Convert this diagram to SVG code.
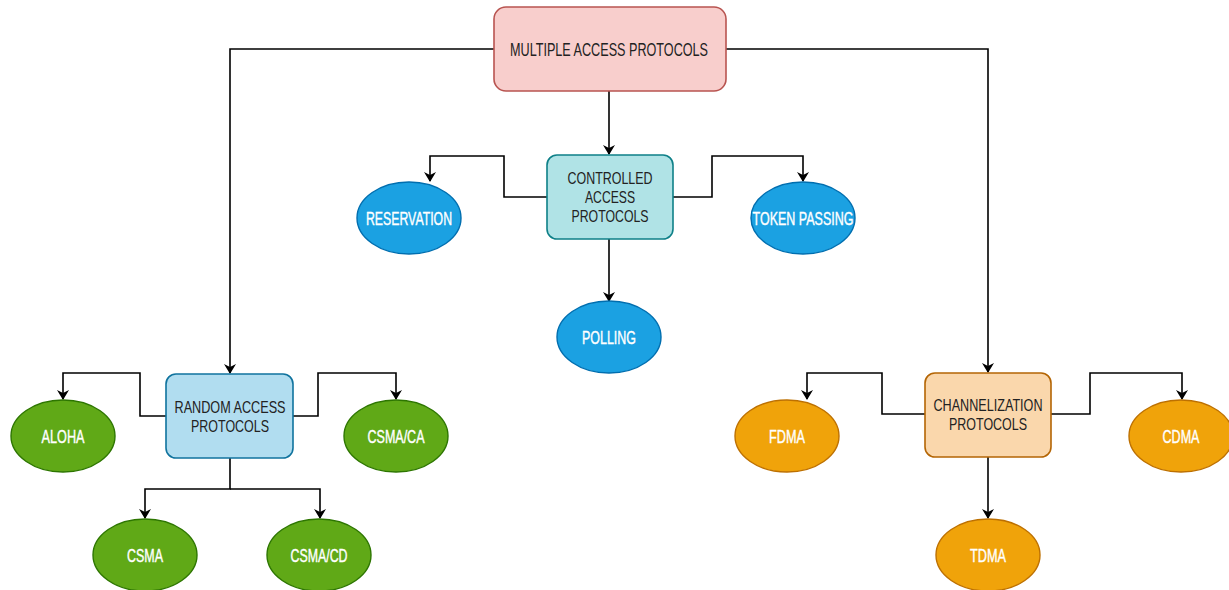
<svg xmlns="http://www.w3.org/2000/svg" width="1229" height="590" viewBox="0 0 1229 590">
  <style>
    .box text { font-family: "Liberation Sans", Arial, sans-serif; font-size: 17px; fill: #222; text-anchor: middle; }
    .oval text { font-family: "Liberation Sans", Arial, sans-serif; font-size: 18px; fill: #fff; stroke: #fff; stroke-width: 0.4; text-anchor: middle; }
    .edge { fill: none; stroke: #000; stroke-width: 1.6; marker-end: url(#arrow); }
    .pink { fill: #f8cecc; stroke: #b85450; stroke-width: 1.6; }
    .teal { fill: #b0e3e6; stroke: #0e8088; stroke-width: 1.6; }
    .sky { fill: #b1ddf0; stroke: #10739e; stroke-width: 1.6; }
    .peach { fill: #fad7ac; stroke: #b46504; stroke-width: 1.6; }
    .blue { fill: #1ba1e2; stroke: #006eaf; stroke-width: 1.4; }
    .green { fill: #60a917; stroke: #2d7600; stroke-width: 1.4; }
    .orange { fill: #f0a30a; stroke: #bd7000; stroke-width: 1.4; }
  </style>
  <defs>
    <marker id="arrow" viewBox="0 0 10 12" refX="9" refY="6" markerWidth="10" markerHeight="12" markerUnits="userSpaceOnUse" orient="auto">
      <path d="M0,0 L10,6 L0,12 L3,6 Z" fill="#000"/>
    </marker>
  </defs>

  <rect width="1229" height="590" fill="#fff"/>

  <!-- connectors -->
  <g id="connectors">
    <path class="edge" d="M494,49 H230 V373"/>
    <path class="edge" d="M726,49 H988 V372"/>
    <path class="edge" d="M609,91 V154"/>
    <path class="edge" d="M547,197 H504 V156 H430 V181"/>
    <path class="edge" d="M673,197 H712 V156 H803 V181"/>
    <path class="edge" d="M609,239 V301"/>
    <path class="edge" d="M166,416 H140 V373 H63 V399"/>
    <path class="edge" d="M293,416 H318 V373 H396 V399"/>
    <path class="edge" d="M230,458 V489 H145 V518"/>
    <path class="edge" d="M230,489 H320 V518"/>
    <path class="edge" d="M925,414 H882 V373 H807 V399"/>
    <path class="edge" d="M1051,414 H1090 V373 H1182 V399"/>
    <path class="edge" d="M988,457 V518"/>
  </g>

  <!-- boxes -->
  <g id="multiple-access" class="box">
    <rect class="pink" x="494" y="7" width="232" height="84" rx="12"/>
    <text x="609" y="56" style="font-size:18px" textLength="198" lengthAdjust="spacingAndGlyphs">MULTIPLE ACCESS PROTOCOLS</text>
  </g>
  <g id="controlled-access" class="box">
    <rect class="teal" x="547" y="155" width="126" height="84" rx="10"/>
    <text x="610" y="184" textLength="85" lengthAdjust="spacingAndGlyphs">CONTROLLED</text>
    <text x="610" y="203" textLength="50" lengthAdjust="spacingAndGlyphs">ACCESS</text>
    <text x="610" y="222" textLength="77" lengthAdjust="spacingAndGlyphs">PROTOCOLS</text>
  </g>
  <g id="random-access" class="box">
    <rect class="sky" x="166" y="374" width="127" height="84" rx="10"/>
    <text x="230" y="413" textLength="111" lengthAdjust="spacingAndGlyphs">RANDOM ACCESS</text>
    <text x="230" y="432" textLength="78" lengthAdjust="spacingAndGlyphs">PROTOCOLS</text>
  </g>
  <g id="channelization" class="box">
    <rect class="peach" x="925" y="373" width="126" height="84" rx="10"/>
    <text x="988" y="411" textLength="109" lengthAdjust="spacingAndGlyphs">CHANNELIZATION</text>
    <text x="988" y="430" textLength="78" lengthAdjust="spacingAndGlyphs">PROTOCOLS</text>
  </g>

  <!-- controlled access branches -->
  <g id="reservation" class="oval">
    <ellipse class="blue" cx="409" cy="218" rx="52" ry="36"/>
    <text x="409" y="224.5" textLength="86" lengthAdjust="spacingAndGlyphs">RESERVATION</text>
  </g>
  <g id="token-passing" class="oval">
    <ellipse class="blue" cx="803" cy="218" rx="52" ry="36"/>
    <text x="803" y="224.5" textLength="101" lengthAdjust="spacingAndGlyphs">TOKEN PASSING</text>
  </g>
  <g id="polling" class="oval">
    <ellipse class="blue" cx="609" cy="337" rx="52" ry="36"/>
    <text x="609" y="343.5" textLength="54" lengthAdjust="spacingAndGlyphs">POLLING</text>
  </g>

  <!-- random access branches -->
  <g id="aloha" class="oval">
    <ellipse class="green" cx="63" cy="436" rx="52" ry="36"/>
    <text x="63" y="442.5" textLength="43" lengthAdjust="spacingAndGlyphs">ALOHA</text>
  </g>
  <g id="csma-ca" class="oval">
    <ellipse class="green" cx="396" cy="436" rx="52" ry="36"/>
    <text x="396" y="442.5" textLength="57" lengthAdjust="spacingAndGlyphs">CSMA/CA</text>
  </g>
  <g id="csma" class="oval">
    <ellipse class="green" cx="145" cy="555" rx="52" ry="36"/>
    <text x="145" y="561.5" textLength="36" lengthAdjust="spacingAndGlyphs">CSMA</text>
  </g>
  <g id="csma-cd" class="oval">
    <ellipse class="green" cx="319" cy="555" rx="52" ry="36"/>
    <text x="319" y="561.5" textLength="57" lengthAdjust="spacingAndGlyphs">CSMA/CD</text>
  </g>

  <!-- channelization branches -->
  <g id="fdma" class="oval">
    <ellipse class="orange" cx="787" cy="436" rx="52" ry="36"/>
    <text x="787" y="442.5" textLength="36" lengthAdjust="spacingAndGlyphs">FDMA</text>
  </g>
  <g id="cdma" class="oval">
    <ellipse class="orange" cx="1181" cy="436" rx="52" ry="36"/>
    <text x="1181" y="442.5" textLength="37" lengthAdjust="spacingAndGlyphs">CDMA</text>
  </g>
  <g id="tdma" class="oval">
    <ellipse class="orange" cx="988" cy="555" rx="52" ry="36"/>
    <text x="988" y="561.5" textLength="36" lengthAdjust="spacingAndGlyphs">TDMA</text>
  </g>
</svg>
